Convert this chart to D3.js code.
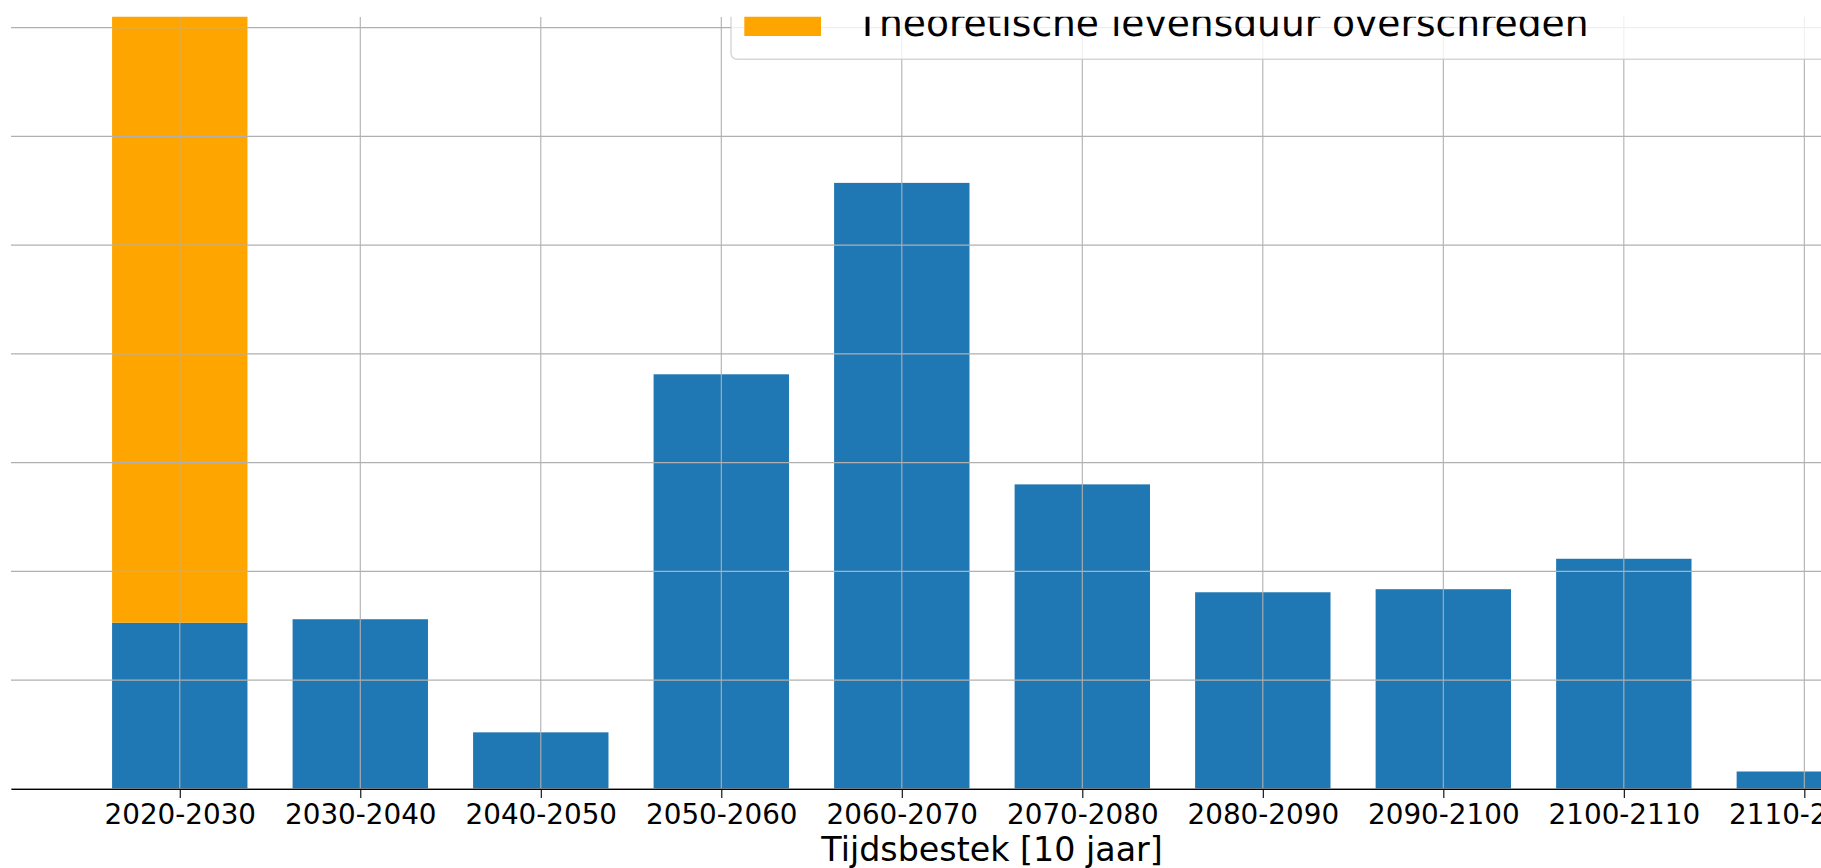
<!DOCTYPE html>
<html>
<head>
<meta charset="utf-8">
<script src="https://cdn.jsdelivr.net/npm/d3@7"></script>
<style>
  html, body { margin: 0; padding: 0; background: #ffffff; overflow: hidden; }
  svg { display: block; font-family: "DejaVu Sans", sans-serif; }
</style>
</head>
<body>
<svg id="chart" width="1821" height="868"></svg>
<script>
// ---- data ----
const categories = ["2020-2030", "2030-2040", "2040-2050", "2050-2060", "2060-2070",
                    "2070-2080", "2080-2090", "2090-2100", "2100-2110", "2110-2120"];
const notExceeded = [38.2, 39, 13, 95.3, 139.3, 70, 45.2, 45.9, 52.9, 4];   // blue
const exceeded    = [150, 0, 0, 0, 0, 0, 0, 0, 0, 0];                       // orange, stacked
const yTicks = [0, 25, 50, 75, 100, 125, 150, 175];
const xLabel = "Tijdsbestek [10 jaar]";
const legendLabel = "Theoretische levensduur overschreden";

// ---- layout ----
const W = 1821, H = 868;
const baseY = 788.9, topY = 16.7;
const svg = d3.select("#chart");

const x = d3.scaleLinear().domain([-0.935, categories.length - 1 + 0.935]).range([11, 1973.1]);
const y = d3.scaleLinear().domain([0, 177.5]).range([baseY, topY]);
const barW = 0.75;

svg.append("defs").append("clipPath").attr("id", "clipAll")
  .append("rect").attr("x", 0).attr("y", topY).attr("width", W).attr("height", H);

const g = svg.append("g").attr("clip-path", "url(#clipAll)");

// bars
const stack = categories.map((c, i) => ({ i, blue: notExceeded[i], orange: exceeded[i] }));
g.append("g").selectAll("rect.blue").data(stack).join("rect")
  .attr("x", d => x(d.i - barW / 2))
  .attr("width", d => x(d.i + barW / 2) - x(d.i - barW / 2))
  .attr("y", d => y(d.blue))
  .attr("height", d => y(0) - y(d.blue))
  .attr("fill", "#1f77b4");
g.append("g").selectAll("rect.orange").data(stack.filter(d => d.orange > 0)).join("rect")
  .attr("x", d => x(d.i - barW / 2))
  .attr("width", d => x(d.i + barW / 2) - x(d.i - barW / 2))
  .attr("y", d => y(d.blue + d.orange))
  .attr("height", d => y(d.blue) - y(d.blue + d.orange))
  .attr("fill", "#ffa500");

// grid (drawn over bars, like matplotlib default)
const grid = g.append("g");
grid.selectAll("line.h").data(yTicks).join("line")
  .attr("x1", x.range()[0]).attr("x2", x.range()[1])
  .attr("y1", d => y(d)).attr("y2", d => y(d))
  .attr("stroke", "#b0b0b0").attr("stroke-width", 1.1);
grid.selectAll("line.v").data(categories.map((c, i) => i)).join("line")
  .attr("x1", d => x(d)).attr("x2", d => x(d))
  .attr("y1", topY).attr("y2", baseY)
  .attr("stroke", "#b0b0b0").attr("stroke-width", 1.1);

// x axis
const xAxis = d3.axisBottom(x)
  .tickValues(categories.map((c, i) => i))
  .tickFormat(i => categories[i])
  .tickSize(9).tickSizeOuter(0).tickPadding(6);
const ax = g.append("g").attr("transform", `translate(0,${baseY})`).call(xAxis);
ax.select(".domain").attr("stroke", "#000").attr("stroke-width", 1.1);
ax.selectAll(".tick line").attr("stroke", "#000").attr("stroke-width", 1.1);
ax.selectAll(".tick text").attr("fill", "#000")
  .style("font-family", "'DejaVu Sans', sans-serif").style("font-size", "27.8px");

// x label
g.append("text")
  .attr("x", (x.range()[0] + x.range()[1]) / 2).attr("y", 860.5)
  .attr("text-anchor", "middle").attr("fill", "#000")
  .style("font-size", "33.3px")
  .text(xLabel);

// legend
const lg = g.append("g");
lg.append("rect")
  .attr("x", 731).attr("y", -120).attr("width", 1400).attr("height", 179.3)
  .attr("rx", 6).attr("ry", 6)
  .attr("fill", "#ffffff").attr("fill-opacity", 0.8)
  .attr("stroke", "#cccccc").attr("stroke-opacity", 0.8).attr("stroke-width", 1.4);
lg.append("rect")
  .attr("x", 744.3).attr("y", 36 - 26.3).attr("width", 76.7).attr("height", 26.3)
  .attr("fill", "#ffa500");
lg.append("text")
  .attr("x", 856).attr("y", 36).attr("fill", "#000")
  .style("font-size", "37.6px")
  .text(legendLabel);
</script>
</body>
</html>
